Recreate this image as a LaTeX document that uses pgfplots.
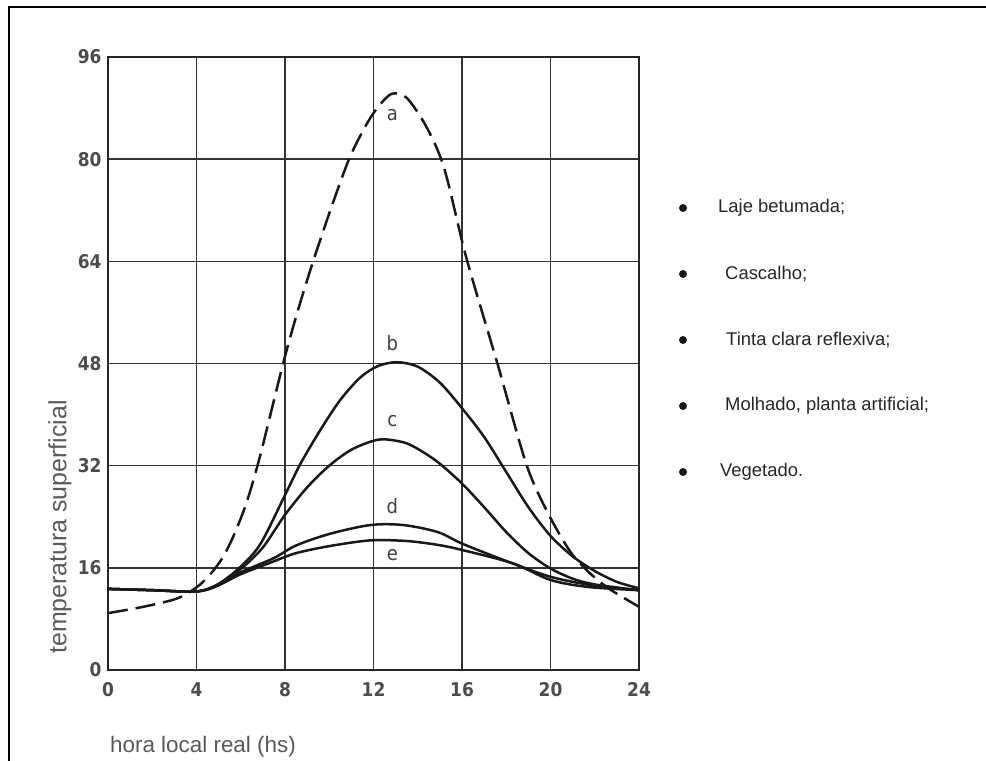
\documentclass[border=0pt]{standalone}
\usepackage{pgfplots}
\pgfplotsset{compat=1.18}
\usepackage{fontspec}
\setmainfont{Liberation Sans}
\newfontfamily\cond{DejaVu Sans Condensed}

\begin{document}
\begin{tikzpicture}[x=1bp,y=1bp]
\useasboundingbox (0,0) rectangle (986,761);
% frame round the figure
\draw[line width=2bp] (9,0) -- (9,754) -- (990,754);

\begin{axis}[
  at={(108bp,91bp)}, anchor=south west,
  width=531bp, height=613bp, scale only axis,
  xmin=0, xmax=24, ymin=0, ymax=96,
  xtick={0,4,...,24}, ytick={0,16,...,96},
  major tick length=0pt,
  grid=major,
  major grid style={line width=1.6bp, black!80},
  axis line style={line width=2.5bp, black!85},
  tick label style={font=\cond\bfseries\fontsize{19}{19}\selectfont, text=black!70},
  /pgf/number format/assume math mode=true,
  xticklabel style={yshift=-9bp},
  yticklabel style={xshift=-3bp},
  clip=false,
]

% a: laje betumada
\addplot[black!90, line width=2.5bp, smooth, dash pattern=on 20bp off 8bp] coordinates {
(0,8.9) (1.6,9.9) (2.95,11.0) (3.6,12.0) (4.2,13.5) (4.7,15.3) (5.2,17.7) (5.7,21.2)
(6.27,26.3) (6.88,33.6) (7.93,48.2) (8.6,56.5) (9.29,64.2) (10.1,72.5) (10.87,79.8)
(11.5,84.3) (12.08,87.6) (12.8,90.2) (13.5,89.6) (14.4,85) (15.2,78.5) (16.2,64.5)
(17.6,48) (18.9,32.3) (19.85,24.8) (20.9,18.5) (21.8,15.1) (22.7,12.6) (24,9.9)};

% b: cascalho
\addplot[black!90, line width=2.5bp, smooth] coordinates {
(0,12.7) (2,12.5) (4,12.3) (5,13.5) (6,16.2) (6.9,19.8) (8,27.4) (8.7,32.3) (9.6,37.6)
(10.5,42.3) (11.4,45.8) (12.2,47.6) (13.05,48.2) (14,47.5) (15,45) (16,41) (17,36.5)
(18,31) (19,25.5) (20,21) (21,17.8) (22,15.5) (23,13.8) (24,12.8)};

% c: tinta clara reflexiva
\addplot[black!90, line width=2.5bp, smooth] coordinates {
(0,12.7) (2,12.5) (4,12.3) (5,13.3) (6,15.8) (7,19.2) (8,24.3) (9,28.6) (10,32) (11,34.5)
(12,35.9) (12.6,36.1) (13.5,35.5) (14.3,34) (15,32.3) (16,29.2) (17,25.5) (18,21.6)
(19,18.3) (20,15.9) (21,14.3) (22,13.4) (24,12.5)};

% d: molhado, planta artificial
\addplot[black!90, line width=2.5bp, smooth] coordinates {
(0,12.7) (2,12.5) (4,12.3) (5,13.3) (6,15.3) (7.48,17.5) (8.5,19.5) (10,21.3)
(11.85,22.7) (13.35,22.7) (14.9,21.6) (16,19.8) (17.9,17.2) (20,14.6) (22,13.2) (24,12.5)};

% e: vegetado
\addplot[black!90, line width=2.5bp, smooth] coordinates {
(0,12.7) (2,12.5) (4,12.3) (5,13.3) (6,15.0) (7.48,17.0) (8.5,18.3) (10,19.4)
(11.85,20.3) (13.5,20.2) (14.9,19.6) (16,18.8) (18.3,16.7) (20,14.1) (21.7,13.0) (24,12.5)};

\node[font=\cond\fontsize{20}{20}\selectfont, text=black!75] at (axis cs:12.85,86.9) {a};
\node[font=\cond\fontsize{20}{20}\selectfont, text=black!75] at (axis cs:12.85,51.2) {b};
\node[font=\cond\fontsize{20}{20}\selectfont, text=black!75] at (axis cs:12.85,39.0) {c};
\node[font=\cond\fontsize{20}{20}\selectfont, text=black!75] at (axis cs:12.85,25.6) {d};
\node[font=\cond\fontsize{20}{20}\selectfont, text=black!75] at (axis cs:12.85,18.0) {e};
\end{axis}

% axis titles
\node[font=\fontsize{22.5}{22.5}\selectfont, text=black!65] at (203,14) {hora local real (hs)};
\node[font=\fontsize{25}{25}\selectfont, text=black!65, rotate=90] at (60,234) {temperatura superficial};

% list of surfaces
\foreach \yy/\xx/\txt in {208/718/{Laje betumada;}, 274/725/{Cascalho;}, 340/726/{Tinta clara reflexiva;}, 406/725/{Molhado, planta artificial;}, 472/720/{Vegetado.}}{
  \fill[black!90] (683,761-\yy) circle (4);
  \node[anchor=west, inner sep=0pt, font=\fontsize{18.5}{18.5}\selectfont, text=black!85] at (\xx,761-\yy) {\txt};
}
\end{tikzpicture}
\end{document}
